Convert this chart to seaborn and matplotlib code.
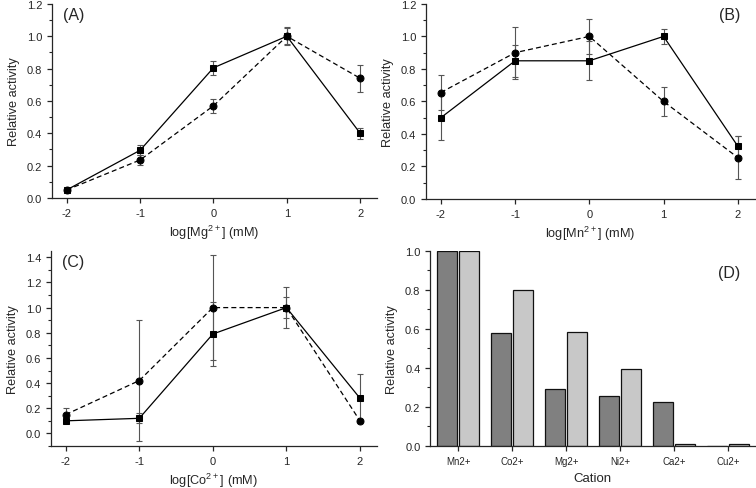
"""
Relative activity vs. metal ion concentration (A-C) and cation screen (D).
"""

import numpy as np
import pandas as pd
import matplotlib
matplotlib.use('Agg')
import matplotlib.pyplot as plt
from matplotlib.ticker import MultipleLocator
import seaborn as sns

# =====================================================
# DATA
# =====================================================
log_conc = [-2, -1, 0, 1, 2]

# Panel A: Mg2+
mg_sq = [0.05, 0.295, 0.805, 1.00, 0.40]
mg_sq_err = [0.01, 0.03, 0.045, 0.055, 0.035]
mg_ci = [0.05, 0.235, 0.57, 1.00, 0.74]
mg_ci_err = [0.01, 0.03, 0.045, 0.05, 0.085]

# Panel B: Mn2+
mn_sq = [0.50, 0.85, 0.85, 1.00, 0.325]
mn_sq_err = [0.14, 0.10, 0.12, 0.045, 0.06]
mn_ci = [0.655, 0.90, 1.00, 0.60, 0.255]
mn_ci_err = [0.11, 0.16, 0.11, 0.09, 0.13]

# Panel C: Co2+
co_sq = [0.10, 0.12, 0.79, 1.00, 0.28]
co_sq_err = [0.01, 0.04, 0.255, 0.16, 0.19]
co_ci = [0.15, 0.42, 1.00, 1.00, 0.10]
co_ci_err = [0.05, 0.48, 0.415, 0.085, 0.01]

# Panel D: cation screen
cations = ['Mn2+', 'Co2+', 'Mg2+', 'Ni2+', 'Ca2+', 'Cu2+']
cation_dark = [1.00, 0.58, 0.29, 0.255, 0.225, 0.0]
cation_light = [1.00, 0.80, 0.585, 0.395, 0.01, 0.01]

# =====================================================
# STYLE
# =====================================================
sns.set_theme(style='ticks')
plt.rcParams['font.family'] = ['Liberation Sans', 'DejaVu Sans']
plt.rcParams['mathtext.default'] = 'regular'
plt.rcParams['axes.unicode_minus'] = False
plt.rcParams['axes.linewidth'] = 0.9
plt.rcParams['xtick.major.size'] = 3.5
plt.rcParams['ytick.major.size'] = 3.5
plt.rcParams['ytick.minor.size'] = 2
plt.rcParams['xtick.major.width'] = 0.9
plt.rcParams['ytick.major.width'] = 0.9
plt.rcParams['ytick.minor.width'] = 0.8

TICK_FS = 8
LABEL_FS = 9.2
PANEL_FS = 11.5

fig = plt.figure(figsize=(7.56, 4.89), dpi=100)
axA = fig.add_axes([0.0688, 0.593, 0.430, 0.397])
axB = fig.add_axes([0.5635, 0.591, 0.435, 0.399])
axC = fig.add_axes([0.0675, 0.0859, 0.431, 0.3988])
axD = fig.add_axes([0.569, 0.0859, 0.430, 0.3988])


def dose_panel(ax, sq, sq_err, ci, ci_err, ion, ylim, tag, tag_x, tag_ha):
    df = pd.DataFrame({
        'x': log_conc * 2,
        'y': sq + ci,
        'err': sq_err + ci_err,
        'series': ['sq'] * len(sq) + ['ci'] * len(ci),
    })
    ax.errorbar(df['x'], df['y'], yerr=df['err'], fmt='none', ecolor='#555555',
                elinewidth=0.8, capsize=2.5, capthick=0.8, zorder=1)
    sns.lineplot(data=df, x='x', y='y', style='series', ax=ax,
                 markers={'sq': 's', 'ci': 'o'},
                 dashes={'sq': '', 'ci': (4, 2.5)},
                 color='black', markersize=5, markeredgecolor='black',
                 linewidth=0.9, legend=False, errorbar=None, zorder=3)
    ax.set_xlim(-2.2, 2.23)
    ax.set_ylim(*ylim)
    ax.set_xticks(log_conc)
    ax.yaxis.set_major_locator(MultipleLocator(0.2))
    ax.yaxis.set_minor_locator(MultipleLocator(0.1))
    ax.yaxis.set_major_formatter(plt.FormatStrFormatter('%.1f'))
    ax.set_xlabel(r'log[' + ion + r'$^{2+}$] (mM)', fontsize=LABEL_FS, labelpad=3.5)
    ax.set_ylabel('Relative activity', fontsize=LABEL_FS, labelpad=5)
    ax.tick_params(labelsize=TICK_FS)
    ax.text(tag_x, 0.985, tag, transform=ax.transAxes, fontsize=PANEL_FS,
            ha=tag_ha, va='top')
    sns.despine(ax=ax)


dose_panel(axA, mg_sq, mg_sq_err, mg_ci, mg_ci_err, 'Mg', (0, 1.2), '(A)', 0.035, 'left')
dose_panel(axB, mn_sq, mn_sq_err, mn_ci, mn_ci_err, 'Mn', (0, 1.2), '(B)', 0.955, 'right')
dose_panel(axC, co_sq, co_sq_err, co_ci, co_ci_err, 'Co', (-0.1, 1.45), '(C)', 0.035, 'left')

# Panel D: grouped bars
dfD = pd.DataFrame({
    'cation': cations * 2,
    'value': cation_dark + cation_light,
    'series': ['dark'] * len(cations) + ['light'] * len(cations),
})
sns.barplot(data=dfD, x='cation', y='value', hue='series', ax=axD,
            palette=['#808080', '#c8c8c8'], edgecolor='#111111', linewidth=0.9,
            width=0.82, gap=0.08, legend=False)
axD.set_xlim(-0.52, 5.5)
axD.set_ylim(0, 1.0)
axD.yaxis.set_major_locator(MultipleLocator(0.2))
axD.yaxis.set_minor_locator(MultipleLocator(0.1))
axD.yaxis.set_major_formatter(plt.FormatStrFormatter('%.1f'))
axD.set_xlabel('Cation', fontsize=LABEL_FS + 0.3, labelpad=4.5)
axD.set_ylabel('Relative activity', fontsize=LABEL_FS, labelpad=5)
axD.tick_params(axis='y', labelsize=TICK_FS)
axD.tick_params(axis='x', labelsize=TICK_FS - 1)
axD.text(0.955, 0.93, '(D)', transform=axD.transAxes, fontsize=PANEL_FS,
         ha='right', va='top')
sns.despine(ax=axD)

plt.savefig('out.png', dpi=100)
